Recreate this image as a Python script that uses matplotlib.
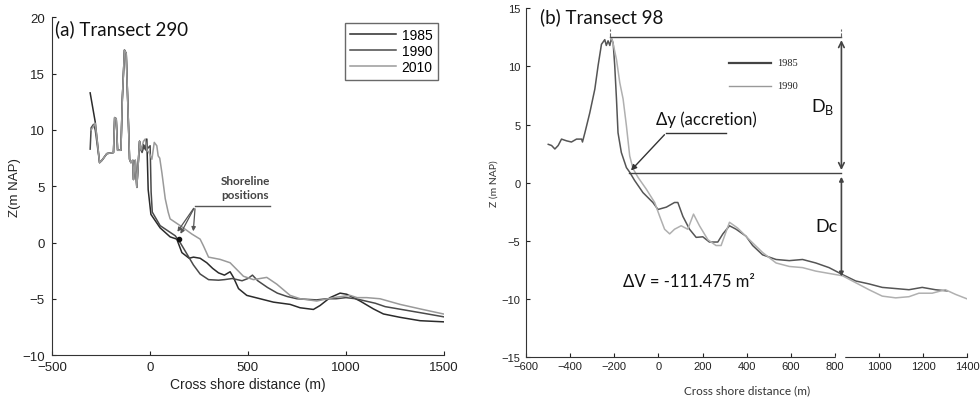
import matplotlib
matplotlib.use("Agg")
import matplotlib.pyplot as plt
import numpy as np

# ---------------- Panel (a) Transect 290 ----------------
dune_x = [-257, -245, -220, -186, -180, -172, -165, -148, -141, -130, -121, -104, -97, -87, -84, -75, -67, -53, -45]
dune_z = [7.1, 7.3, 7.9, 8.0, 11.1, 11.0, 8.2, 8.2, 12.7, 17.1, 16.8, 7.4, 7.1, 7.3, 5.6, 7.3, 4.9, 9.0, 8.2]

a85_head_x = [-305, -279]
a85_head_z = [13.3, 10.7]
a85_tail_x = [-33, -24, -16, -9, 5, 52, 103, 137, 163, 200, 222, 256, 290, 320, 350, 380, 409, 426, 452, 494,
              562, 630, 715, 766, 834, 868, 919, 970, 1004, 1072, 1140, 1191, 1276, 1378, 1497]
a85_tail_z = [8.7, 8.3, 9.2, 4.7, 2.5, 1.3, 0.5, 0.3, -0.9, -1.4, -1.3, -1.4, -1.8, -2.3, -2.7, -2.9, -2.6, -3.1, -4.1, -4.7,
              -5.0, -5.3, -5.5, -5.8, -5.95, -5.6, -4.9, -4.5, -4.6, -5.2, -5.9, -6.35, -6.65, -6.95, -7.05]

a90_head_x = [-305, -300, -288, -279]
a90_head_z = [8.3, 10.2, 10.5, 10.0]
a90_tail_x = [-40, -30, -20, -10, 1, 6, 12, 52, 129, 154, 188, 222, 256, 299, 350, 380, 420, 470, 500, 523, 550,
              600, 650, 700, 750, 800, 850, 900, 950, 1000, 1050, 1100, 1150, 1200, 1300, 1400, 1497]
a90_tail_z = [8.0, 8.6, 8.2, 8.4, 8.6, 4.5, 2.7, 1.5, 0.6, 0.0, -1.0, -2.0, -2.8, -3.3, -3.35, -3.3, -3.2, -3.4, -3.2, -2.9, -3.4,
              -4.0, -4.5, -4.8, -5.0, -5.05, -5.1, -5.0, -5.0, -4.9, -5.0, -5.2, -5.4, -5.7, -6.0, -6.3, -6.6]

a10_head_x = [-300, -279]
a10_head_z = [10.0, 10.6]
a10_tail_x = [-33, -24, -15, -5, 10, 22, 35, 42, 50, 61, 78, 93, 103, 154, 214, 256, 273, 299, 358, 409, 426, 477,
              528, 596, 647, 715, 767, 851, 936, 1021, 1057, 1106, 1174, 1276, 1378, 1497]
a10_tail_z = [9.0, 9.2, 8.2, 8.0, 7.4, 8.9, 8.6, 7.7, 7.5, 6.2, 3.9, 2.7, 2.1, 1.5, 0.75, 0.3, -0.3, -1.3, -1.5, -1.8, -2.1, -3.0,
              -3.3, -3.1, -3.7, -4.7, -5.0, -5.2, -4.9, -4.7, -4.9, -4.9, -5.0, -5.5, -5.9, -6.35]

# shoreline markers (arrow tips)
shore_x = [132, 149, 220]
shore_z = [0.75, 0.55, 0.75]

# ---------------- Panel (b) Transect 98 ----------------
b_common_x = [-499, -484, -469, -454, -439, -416, -394, -371, -348, -344, -333, -311, -288, -273, -258, -243, -236, -228, -220, -213]
b_common_z = [3.3, 3.2, 2.9, 3.2, 3.75, 3.6, 3.5, 3.75, 3.75, 3.5, 4.3, 6.0, 8.05, 10.1, 11.9, 12.3, 11.8, 12.2, 11.8, 12.4]

b85_x = [-205, -198, -190, -183, -168, -145, -130, -108, -70, -25, -2, 36, 73, 88, 111, 141, 171, 201, 231, 269, 292, 322,
         352, 397, 427, 472, 533, 593, 653, 713, 773, 834, 894, 954, 1014, 1075, 1135, 1195, 1255, 1308]
b85_z = [12.0, 10.1, 7.2, 4.3, 2.6, 1.3, 0.9, 0.2, -0.85, -1.7, -2.3, -2.1, -1.7, -1.7, -2.9, -4.0, -4.7, -4.65, -5.1, -5.1, -4.4, -3.7,
         -4.0, -4.6, -5.4, -6.2, -6.6, -6.7, -6.6, -6.9, -7.3, -7.9, -8.45, -8.7, -9.0, -9.1, -9.2, -9.0, -9.2, -9.3]

b90_x = [-208, -190, -175, -160, -145, -130, -115, -92, -55, -17, 5, 28, 51, 73, 103, 133, 159, 186, 224, 261, 284, 322,
         359, 412, 472, 533, 593, 653, 713, 773, 834, 894, 954, 1014, 1075, 1135, 1180, 1240, 1300, 1346, 1400]
b90_z = [12.2, 10.6, 8.6, 7.2, 4.9, 2.3, 1.2, 0.45, -0.55, -1.7, -2.85, -4.0, -4.4, -4.0, -3.7, -4.0, -2.7, -3.7, -4.9, -5.4, -5.4, -3.4,
         -3.9, -4.9, -6.0, -6.9, -7.2, -7.3, -7.6, -7.8, -8.0, -8.6, -9.2, -9.75, -9.9, -9.8, -9.5, -9.5, -9.2, -9.6, -10.0]

# annotation geometry (data units)
db_x = 829
db_top = 12.5
shore_level = 0.85
dc_bottom = -8.3
crest_x = -220
shore_pt_x = -133

fig = plt.figure(figsize=(9.8, 4.02), dpi=100)
plt.rcParams['font.family'] = ['Liberation Sans', 'DejaVu Sans']

# ---------- left axes ----------
ax1 = fig.add_axes([0.053, 0.1144, 0.400, 0.8396])
c85, c90, c10 = '#2b2b2b', '#4a4a4a', '#9a9a9a'
ax1.plot(a85_head_x + dune_x + a85_tail_x, a85_head_z + dune_z + a85_tail_z, color=c85, lw=1.1, label='1985')
ax1.plot(a90_head_x + dune_x + a90_tail_x, a90_head_z + dune_z + a90_tail_z, color=c90, lw=1.1, label='1990')
ax1.plot(a10_head_x + dune_x + a10_tail_x, a10_head_z + dune_z + a10_tail_z, color=c10, lw=1.1, label='2010')
ax1.set_xlim(-500, 1500)
ax1.set_ylim(-10, 20)
ax1.set_xticks([-500, 0, 500, 1000, 1500])
ax1.set_yticks([-10, -5, 0, 5, 10, 15, 20])
for s in ['top', 'right']:
    ax1.spines[s].set_visible(False)
for s in ['left', 'bottom']:
    ax1.spines[s].set_color('#333333')
ax1.tick_params(direction='in', length=3, labelsize=9.5, colors='#222222')
ax1.tick_params(axis='x', pad=4)
ax1.tick_params(axis='y', pad=5)
ax1.set_xlabel('Cross shore distance (m)', fontsize=10, color='#222222', labelpad=3)
ax1.set_ylabel('Z(m NAP)', fontsize=9.5, color='#222222', labelpad=1)
ax1.text(0.008, 0.968, '(a) Transect 290', transform=ax1.transAxes, fontsize=13.5,
         family=['Lato', 'DejaVu Sans'], ha='left', va='center', color='#111111')
leg = ax1.legend(loc='upper right', bbox_to_anchor=(0.985, 0.985), borderaxespad=0, fontsize=10,
                 frameon=True, fancybox=False, edgecolor='#444444', handlelength=3.3, borderpad=0.4,
                 labelspacing=0.15, handletextpad=0.4)
leg.get_frame().set_linewidth(1.0)
# shoreline annotation
ax1.plot([231, 613], [3.24, 3.24], color='#555555', lw=1.0)
for sx, sz in zip(shore_x, shore_z):
    ax1.annotate('', xy=(sx, sz), xytext=(231, 3.24),
                 arrowprops=dict(arrowstyle='-|>', color='#555555', lw=0.9, mutation_scale=6))
ax1.plot(shore_x[1], shore_z[1] - 0.2, 'o', color='#111111', ms=3)
ax1.text(486, 4.9, 'Shoreline\npositions', fontsize=8.5, family=['Lato', 'DejaVu Sans'],
         ha='center', va='center', color='#444444', fontweight='bold', linespacing=1.4)

# ---------- right axes ----------
ax2 = fig.add_axes([0.5367, 0.109, 0.4505, 0.868])
ax2.plot(b_common_x + b85_x, b_common_z + b85_z, color='#555555', lw=1.1)
ax2.plot(b_common_x[-1:] + b90_x, b_common_z[-1:] + b90_z, color='#b0b0b0', lw=1.1)
ax2.set_xlim(-600, 1400)
ax2.set_ylim(-15, 15)
ax2.set_xticks(np.arange(-600, 1401, 200))
ax2.set_yticks([-15, -10, -5, 0, 5, 10, 15])
for s in ['top', 'right']:
    ax2.spines[s].set_visible(False)
for s in ['left', 'bottom']:
    ax2.spines[s].set_color('#333333')
ax2.tick_params(direction='in', length=3, labelsize=8, colors='#222222')
ax2.tick_params(axis='x', pad=3)
ax2.tick_params(axis='y', pad=4)
ax2.set_xlabel('Cross shore distance (m)', fontsize=8.5, color='#333333', labelpad=9,
               family=['Lato', 'DejaVu Sans'])
ax2.set_ylabel('Z (m NAP)', fontsize=7.5, color='#333333', labelpad=2,
               family=['Lato', 'DejaVu Sans'])
ax2.text(0.032, 0.978, '(b) Transect 98', transform=ax2.transAxes, fontsize=13.5,
         family=['Lato', 'DejaVu Sans'], ha='left', va='center', color='#111111')
# axis break
ax2.plot([808, 838], [-15, -15], color='white', lw=2.5, clip_on=False, zorder=10)

# legend (frameless, drawn by hand)
ax2.plot([322, 510], [10.3, 10.3], color='#444444', lw=1.6)
ax2.plot([322, 510], [8.35, 8.35], color='#999999', lw=1.0)
ax2.text(540, 10.3, '1985', fontsize=7.5, family=['Liberation Serif', 'DejaVu Serif'], va='center', color='#222222')
ax2.text(540, 8.35, '1990', fontsize=7.5, family=['Liberation Serif', 'DejaVu Serif'], va='center', color='#222222')

# horizontal reference lines
ax2.plot([crest_x, db_x], [db_top, db_top], color='#444444', lw=1.0)
ax2.plot([shore_pt_x, db_x], [shore_level, shore_level], color='#444444', lw=1.0)
ax2.plot([crest_x, crest_x], [db_top, 13.2], color='#666666', lw=0.8, ls='--')
ax2.plot([db_x, db_x], [db_top, 13.2], color='#666666', lw=0.8, ls='--')
# double arrows
ax2.annotate('', xy=(db_x, db_top), xytext=(db_x, shore_level),
             arrowprops=dict(arrowstyle='<->', color='#444444', lw=1.2, mutation_scale=10))
ax2.annotate('', xy=(db_x, shore_level - 0.1), xytext=(db_x, dc_bottom),
             arrowprops=dict(arrowstyle='<|-|>', color='#444444', lw=1.2, mutation_scale=6))
# accretion leader
ax2.plot([36, 306], [4.3, 4.3], color='#333333', lw=1.0)
ax2.annotate('', xy=(shore_pt_x, 0.88), xytext=(36, 4.3),
             arrowprops=dict(arrowstyle='-|>', color='#333333', lw=1.0, mutation_scale=8))
ax2.text(216, 5.5, '\u0394y (accretion)', fontsize=12, family=['Lato', 'DejaVu Sans'],
         ha='center', va='center', color='#111111')
ax2.text(743, 6.6, r'D$_\mathregular{B}$', fontsize=13, family=['Lato', 'DejaVu Sans'],
         ha='center', va='center', color='#111111')
ax2.text(761, -3.7, 'Dc', fontsize=13, family=['Lato', 'DejaVu Sans'],
         ha='center', va='center', color='#111111')
ax2.text(-162, -8.45, '\u0394V = -111.475 m\u00b2', fontsize=12, family=['Lato', 'DejaVu Sans'],
         ha='left', va='center', color='#111111')

fig.savefig('out.png', dpi=100, facecolor='white')
